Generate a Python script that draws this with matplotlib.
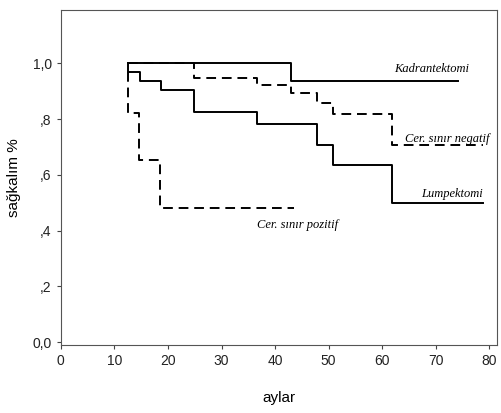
import numpy as np
import matplotlib.pyplot as plt

# step points (months, survival)
kadran_x = [12.6, 42.9, 74.2]
kadran_y = [1.0, 0.938, 0.938]

lump_x = [12.6, 12.6, 14.8, 18.8, 24.8, 36.7, 47.8, 50.8, 61.8, 78.8]
lump_y = [1.0, 0.967, 0.937, 0.905, 0.825, 0.782, 0.706, 0.635, 0.498, 0.498]

neg_x = [12.6, 24.8, 36.7, 42.9, 47.8, 50.8, 61.8, 78.8]
neg_y = [1.0, 0.949, 0.923, 0.893, 0.857, 0.819, 0.708, 0.708]

poz_x = [12.6, 12.6, 14.6, 18.6, 43.5]
poz_y = [0.967, 0.821, 0.652, 0.482, 0.482]

xticks = [0, 10, 20, 30, 40, 50, 60, 70, 80]
yticks = [0.0, 0.2, 0.4, 0.6, 0.8, 1.0]
ytick_labels = ["0,0", ",2", ",4", ",6", ",8", "1,0"]

fig = plt.figure(figsize=(5.02, 4.13), dpi=100)
ax = fig.add_axes([0.121, 0.165, 0.870, 0.810])

ax.step(kadran_x, kadran_y, where="post", color="black", lw=1.4)
ax.step(lump_x, lump_y, where="post", color="black", lw=1.4)
ax.step(neg_x, neg_y, where="post", color="black", lw=1.4, ls=(0, (5, 3)))
ax.step(poz_x, poz_y, where="post", color="black", lw=1.4, ls=(0, (5, 3)))

lab = dict(family="Liberation Serif", style="italic", fontsize=9, ha="center", va="center")
ax.text(69.3, 0.98, "Kadrantektomi", **lab)
ax.text(72.1, 0.73, "Cer. sınır negatif", **lab)
ax.text(73.0, 0.53, "Lumpektomi", **lab)
ax.text(44.1, 0.42, "Cer. sınır pozitif", **lab)

ax.set_xlim(0, 81.5)
ax.set_ylim(-0.01, 1.19)
ax.set_xticks(xticks)
ax.set_yticks(yticks)
ax.set_yticklabels(ytick_labels)
ax.tick_params(labelsize=10, length=3, width=0.8, color="#444444", labelcolor="#222222")
for s in ax.spines.values():
    s.set_color("#555555")
    s.set_linewidth(0.8)

ax.set_xlabel("aylar", fontsize=11, labelpad=17, family="Liberation Sans")
ax.set_ylabel("sağkalım %", fontsize=11, labelpad=8, family="Liberation Sans")
for t in ax.get_xticklabels() + ax.get_yticklabels():
    t.set_family("Liberation Sans")

fig.savefig("out.png", dpi=100)
